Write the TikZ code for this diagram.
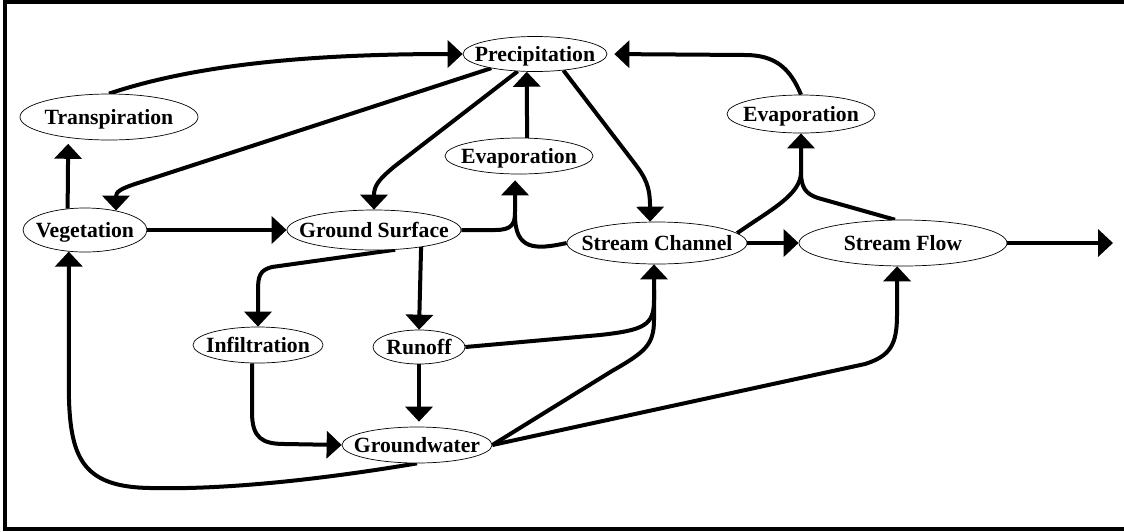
\documentclass[tikz,border=0pt]{standalone}
\usepackage{fontspec}
\setmainfont{Liberation Serif}
\usetikzlibrary{arrows.meta,shapes.geometric}
\pgfdeclarelayer{bg}
\pgfsetlayers{bg,main}
\newcommand{\lbl}[1]{\makebox[0pt]{\smash{\raisebox{-0.36em}{#1}}}}
\begin{document}
\begin{tikzpicture}[x=1pt,y=-1pt,
  nd/.style={ellipse, draw, fill=white, line width=0.7pt, inner sep=0pt,
    font=\fontsize{21.7}{25}\selectfont\bfseries},
  arr/.style={line width=4pt, -{Triangle[length=15pt,width=27pt]}},
  ln/.style={line width=4pt}]
\useasboundingbox (0,0) rectangle (1124,531);
% frame
\draw[line width=4pt] (1124,2) -- (5,2) -- (5,529) -- (1124,529);
% nodes
\node[nd, minimum width=144pt, minimum height=35pt] (pr) at (535,54) {\lbl{Precipitation}};
\node[nd, minimum width=178pt, minimum height=46pt] (tr) at (109,117) {\lbl{Transpiration}};
\node[nd, minimum width=124pt, minimum height=44pt] (veg) at (85,230) {\lbl{Vegetation}};
\node[nd, minimum width=174pt, minimum height=40pt] (gs) at (374,230) {\lbl{Ground Surface}};
\node[nd, minimum width=148pt, minimum height=36pt] (ev1) at (519,156) {\lbl{Evaporation}};
\node[nd, minimum width=180pt, minimum height=42pt] (sc) at (657,243) {\lbl{Stream Channel}};
\node[nd, minimum width=148pt, minimum height=38pt] (ev2) at (801,114) {\lbl{Evaporation}};
\node[nd, minimum width=208pt, minimum height=46pt] (sf) at (903,243) {\lbl{Stream Flow}};
\node[nd, minimum width=130pt, minimum height=36pt] (inf) at (258,345) {\lbl{Infiltration}};
\node[nd, minimum width=92pt, minimum height=34pt] (ro) at (419,347) {\lbl{Runoff}};
\node[nd, minimum width=150pt, minimum height=36pt] (gw) at (417,445) {\lbl{Groundwater}};
\coordinate (out) at (1113,243);
% connectors
\begin{pgfonlayer}{bg}
\draw[arr, shorten >=6pt] (veg.129) -- (tr.-153.5);
\draw[arr] (tr.north) .. controls (200,63) and (320,54) .. (pr.west);
\draw[arr] (pr.-162) -- (135,184) .. controls (120,189) and (116,192) .. (veg.32);
\draw[arr] (pr.-135) -- (395,166) .. controls (378,180) and (374,186) .. (gs.north);
\draw[arr] (ev1.66) -- (pr.-115);
\draw[arr] (pr.-30) -- (632,160) .. controls (646,178) and (650,186) .. (sc.108.5);
\draw[arr, shorten >=6pt] (gs.east) -- (495,230) .. controls (512,230) and (515,224) .. (515,212) -- (ev1.-102.5);
\draw[ln] (sc.west) .. controls (535,250) and (515,250) .. (515,215);
\draw[arr] (sc.7) .. controls (770,210) and (801,195) .. (801,172) -- (ev2.south);
\draw[ln] (sf.109) -- (818,198) .. controls (806,194) and (801,188) .. (801,172);
\draw[arr, shorten >=7pt] (ev2.north) .. controls (790,68) and (775,55) .. (745,55) -- (pr.east);
\draw[arr] (veg.east) -- (gs.west);
\draw[arr] (sc.east) -- (sf.west);
\draw[arr] (sf.east) -- (out);
\draw[arr] (gs.-43) -- (272,267) .. controls (260,270) and (258,276) .. (258,290) -- (inf.north);
\draw[arr] (gs.-20.8) -- (ro.north);
\draw[arr, shorten >=5pt] (ro.south) -- (ro.south |- gw.north);
\draw[arr] (inf.-108.5) -- (252,412) .. controls (252,438) and (262,444) .. (285,444) -- (gw.west);
\draw[arr] (ro.east) -- (600,335) .. controls (645,330) and (654,325) .. (654,300) -- (sc.-98);
\draw[ln] (gw.east) -- (612,371) .. controls (645,352) and (654,345) .. (654,320) -- (654,290);
\draw[arr] (gw.east) -- (865,364) .. controls (890,356) and (897,345) .. (897,315) -- (sf.-104.6);
\draw[arr] (gw.south) .. controls (330,478) and (230,490) .. (150,488) .. controls (85,487) and (71,460) .. (69,400) -- (veg.-127);
\end{pgfonlayer}
\end{tikzpicture}
\end{document}
